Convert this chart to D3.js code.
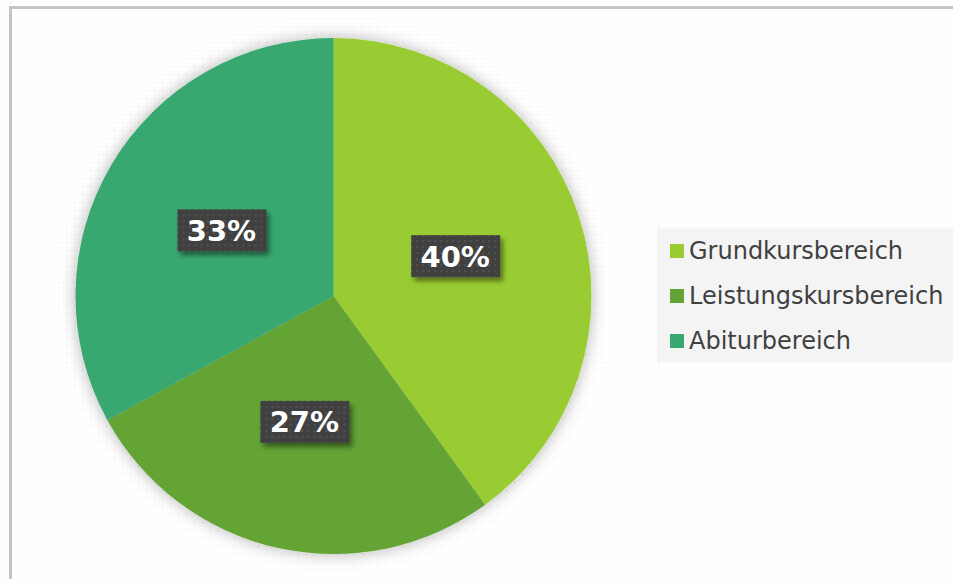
<!DOCTYPE html>
<html>
<head>
<meta charset="utf-8">
<script src="https://cdn.jsdelivr.net/npm/d3@7"></script>
<style>
body { margin: 0; background: #fff; overflow: hidden; }
svg { display: block; }
</style>
</head>
<body>
<div id="chart"></div>
<script>
// Data
const categories = ["Grundkursbereich", "Leistungskursbereich", "Abiturbereich"];
const shares = [40, 27, 33];
const colors = ["#99CC33", "#63A435", "#37A86F"];

const width = 953,
    height = 579;

const svg = d3.select("#chart")
.append("svg")
.attr("width", width)
.attr("height", height);

const defs = svg.append("defs");

// Dotted background pattern
const dots = defs.append("pattern")
    .attr("id", "dots")
    .attr("width", 8)
    .attr("height", 8)
    .attr("patternUnits", "userSpaceOnUse");
dots.append("rect").attr("width", 8).attr("height", 8).attr("fill", "#fff");
dots.append("rect").attr("x", 2).attr("y", 2).attr("width", 1).attr("height", 1).attr("fill", "#d6d6cc");

// Dotted dark pattern for labels
const darkDots = defs.append("pattern")
    .attr("id", "darkdots")
    .attr("width", 6)
    .attr("height", 6)
    .attr("patternUnits", "userSpaceOnUse");
darkDots.append("rect").attr("width", 6).attr("height", 6).attr("fill", "#404040");
darkDots.append("rect").attr("x", 2).attr("y", 2).attr("width", 2).attr("height", 2).attr("fill", "#535353");

// Shadows
const pieShadow = defs.append("filter").attr("id", "pieShadow")
    .attr("x", "-10%").attr("y", "-10%").attr("width", "120%").attr("height", "120%");
pieShadow.append("feDropShadow")
    .attr("dx", 0).attr("dy", 0).attr("stdDeviation", 8)
    .attr("flood-color", "#000").attr("flood-opacity", 0.3);

const boxShadow = defs.append("filter").attr("id", "boxShadow")
    .attr("x", "-20%").attr("y", "-30%").attr("width", "150%").attr("height", "180%");
boxShadow.append("feDropShadow")
    .attr("dx", 3).attr("dy", 4).attr("stdDeviation", 2.5)
    .attr("flood-color", "#000").attr("flood-opacity", 0.45);

// Background + border (left and top edges only visible)
svg.append("rect")
    .attr("width", width).attr("height", height)
    .attr("fill", "url(#dots)");

svg.append("path")
    .attr("d", `M10.5,${height} V7.5 H${width}`)
    .attr("fill", "none")
    .attr("stroke", "#c4c4c4")
    .attr("stroke-width", 3);

// Pie
const cx = 333.5, cy = 296, radius = 258;

const pie = d3.pie().sort(null).value(d => d);
const arcs = pie(shares);

const arc = d3.arc().innerRadius(0).outerRadius(radius);

const g = svg.append("g")
    .attr("transform", `translate(${cx}, ${cy})`);

g.append("g")
    .attr("filter", "url(#pieShadow)")
    .selectAll("path")
    .data(arcs)
    .enter()
    .append("path")
    .attr("d", arc)
    .attr("fill", (d, i) => colors[i]);

// Labels
const labels = g.selectAll(".label")
    .data(arcs)
    .enter()
    .append("g")
    .attr("class", "label")
    .attr("transform", d => `translate(${arc.centroid(d)})`);

labels.append("rect")
    .attr("x", -45)
    .attr("y", -21)
    .attr("width", 89)
    .attr("height", 42)
    .attr("fill", "url(#darkdots)")
    .attr("filter", "url(#boxShadow)");

labels.append("text")
    .attr("text-anchor", "middle")
    .attr("x", -1)
    .attr("dy", "0.36em")
    .attr("fill", "#fff")
    .style("font-family", "'DejaVu Sans', Verdana, sans-serif")
    .style("font-weight", "bold")
    .style("font-size", "29px")
    .text((d, i) => shares[i] + "%");

// Legend
const legend = svg.append("g");

legend.append("rect")
    .attr("x", 657)
    .attr("y", 228)
    .attr("width", 300)
    .attr("height", 134)
    .attr("fill", "#f2f2f2")
    .attr("opacity", 0.85);

const legendItems = legend.selectAll(".legend-item")
    .data(categories)
    .enter()
    .append("g")
    .attr("class", "legend-item")
    .attr("transform", (d, i) => `translate(670, ${250 + i * 45})`);

legendItems.append("rect")
    .attr("y", -6)
    .attr("width", 14)
    .attr("height", 14)
    .attr("fill", (d, i) => colors[i]);

legendItems.append("text")
    .attr("x", 19)
    .attr("y", 1)
    .attr("dy", "0.35em")
    .attr("fill", "#404040")
    .style("font-family", "'DejaVu Sans', Verdana, sans-serif")
    .style("font-size", "24px")
    .text(d => d);
</script>
</body>
</html>
